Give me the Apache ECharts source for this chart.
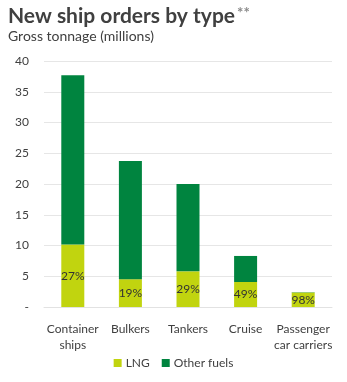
<!DOCTYPE html>
<html>
<head>
<meta charset="utf-8">
<script src="https://cdn.jsdelivr.net/npm/echarts@6/dist/echarts.min.js"></script>
<style>
  html, body { margin: 0; padding: 0; background: #fff; }
  #chart { width: 347px; height: 382px; }
</style>
</head>
<body>
<div id="chart"></div>
<script>
// Gross tonnage of new ship orders (millions) and the LNG share of each
const categories = ['Container\nships', 'Bulkers', 'Tankers', 'Cruise', 'Passenger\ncar carriers'];
const totals = [37.7, 23.75, 20.0, 8.3, 2.4];
const lngShare = [27, 19, 29, 49, 98];
const yTicks = [0, 5, 10, 15, 20, 25, 30, 35, 40];

// Split each total into LNG and other fuels
const lng = totals.map((t, i) => +(t * lngShare[i] / 100).toFixed(3));
const other = totals.map((t, i) => +(t - lng[i]).toFixed(3));

const FONT = 'Lato, "Noto Sans", sans-serif';
const chart = echarts.init(document.getElementById('chart'), null, { renderer: 'canvas' });

chart.setOption({
  animation: false,
  backgroundColor: '#ffffff',
  textStyle: { fontFamily: FONT },
  title: {
    text: 'New ship orders by type{s|**}',
    subtext: 'Gross tonnage (millions)',
    left: 3,
    top: 1,
    itemGap: 2,
    textStyle: {
      fontFamily: FONT,
      fontSize: 21,
      fontWeight: 'bold',
      color: '#404040',
      rich: {
        s: { fontFamily: FONT, fontSize: 15, fontWeight: 'bold', color: '#8a8a8a', verticalAlign: 'top', padding: [0, 0, 6, 2] }
      }
    },
    subtextStyle: { fontFamily: FONT, fontSize: 14, color: '#404040' }
  },
  legend: {
    bottom: 8,
    left: 'center',
    itemWidth: 8,
    itemHeight: 8,
    itemGap: 12,
    icon: 'rect',
    textStyle: { fontFamily: FONT, fontSize: 12, color: '#404040', padding: [0, 0, 0, -1] },
    data: ['LNG', 'Other fuels']
  },
  grid: { left: 44, right: 15, top: 61, bottom: 75, containLabel: false },
  xAxis: {
    type: 'category',
    data: categories,
    axisLine: { show: true, lineStyle: { color: '#e2e2e2', width: 1 } },
    axisTick: { show: false },
    axisLabel: { fontFamily: FONT, fontSize: 12, color: '#404040', margin: 14, lineHeight: 16, interval: 0 }
  },
  yAxis: {
    type: 'value',
    min: yTicks[0],
    max: yTicks[yTicks.length - 1],
    interval: yTicks[1] - yTicks[0],
    axisLine: { show: false },
    axisTick: { show: false },
    splitLine: { lineStyle: { color: '#e6e6e6', width: 1 } },
    axisLabel: {
      fontFamily: FONT, fontSize: 12, color: '#404040', margin: 15,
      formatter: v => (v === 0 ? '-' : String(v))
    }
  },
  series: [
    {
      name: 'LNG',
      type: 'bar',
      stack: 'fuel',
      data: lng,
      barWidth: 23,
      itemStyle: { color: '#c1d40f' },
      label: {
        show: true,
        position: 'inside',
        fontFamily: FONT,
        fontSize: 12,
        color: '#333333',
        formatter: p => lngShare[p.dataIndex] + '%'
      }
    },
    {
      name: 'Other fuels',
      type: 'bar',
      stack: 'fuel',
      data: other,
      barWidth: 23,
      itemStyle: { color: '#00843f' }
    }
  ]
});
</script>
</body>
</html>
